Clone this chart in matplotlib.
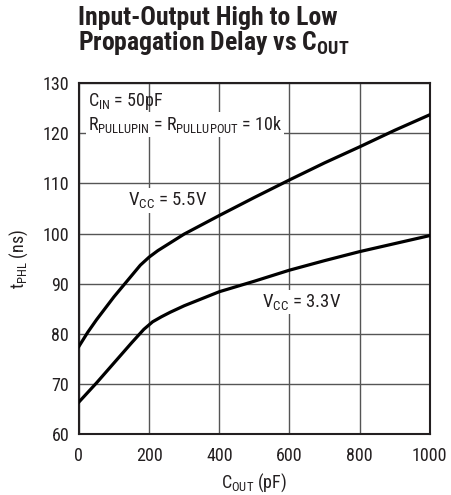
#!/usr/bin/env python3
"""Input-output high to low propagation delay vs C_OUT."""

import matplotlib

matplotlib.use("Agg")
import matplotlib.pyplot as plt
from matplotlib import font_manager

# data
cout_55 = [0, 25, 50, 100, 150, 175, 200, 225, 250, 300, 400, 500, 600, 700, 800, 900, 1000]
tphl_55 = [77.5, 80.3, 82.8, 87.4, 91.6, 93.7, 95.3, 96.6, 97.7, 99.9, 103.6, 107.2, 110.7, 114.1, 117.3, 120.6, 123.7]

cout_33 = [0, 50, 100, 150, 185, 210, 235, 260, 300, 400, 500, 600, 700, 800, 900, 1000]
tphl_33 = [66.4, 70.2, 74.2, 78.2, 80.9, 82.4, 83.4, 84.3, 85.6, 88.4, 90.5, 92.7, 94.6, 96.4, 98.0, 99.6]

x_ticks = [0, 200, 400, 600, 800, 1000]
y_ticks = [60, 70, 80, 90, 100, 110, 120, 130]

names = {f.name for f in font_manager.fontManager.ttflist}
font = "Liberation Sans"
for cand in ["Roboto Condensed", "Open Sans Condensed", "Noto Sans Condensed", "Liberation Sans Narrow"]:
    if cand in names:
        font = cand
        break
plt.rcParams["font.family"] = [font, "DejaVu Sans"]
plt.rcParams["mathtext.fontset"] = "custom"
plt.rcParams["mathtext.rm"] = font
plt.rcParams["mathtext.it"] = font
plt.rcParams["mathtext.bf"] = font + ":bold"

ink = "#231f20"

fig = plt.figure(figsize=(4.51, 4.95), dpi=100)
ax = fig.add_axes([0.175, 0.123, 0.778, 0.709])

ax.plot(cout_55, tphl_55, color="black", linewidth=2.3, zorder=3)
ax.plot(cout_33, tphl_33, color="black", linewidth=2.3, zorder=3)

ax.set_xlim(0, 1000)
ax.set_ylim(60, 130)
ax.set_xticks(x_ticks)
ax.set_yticks(y_ticks)
ax.tick_params(length=0, labelsize=13, colors=ink)
ax.tick_params(axis="y", pad=7)
ax.tick_params(axis="x", pad=9)
ax.grid(True, color="#555555", linewidth=1.0)
ax.set_axisbelow(True)
for s in ax.spines.values():
    s.set_linewidth(1.5)
    s.set_color(ink)

ax.set_xlabel(r"C$_{\mathregular{OUT}}$ (pF)", fontsize=13, color=ink, labelpad=5)
ax.set_ylabel(r"t$_{\mathregular{PHL}}$ (ns)", fontsize=13, color=ink, labelpad=9)

box = dict(facecolor="white", edgecolor="none", pad=1.5)
ax.text(26, 126.3, r"C$_{\mathregular{IN}}$ = 50pF", fontsize=13, color=ink, va="center", ha="left")
ax.text(26, 121.8, r"R$_{\mathregular{PULLUPIN}}$ = R$_{\mathregular{PULLUPOUT}}$ = 10k",
        fontsize=13, color=ink, va="center", ha="left", bbox=box)
ax.text(254, 106.6, r"V$_{\mathregular{CC}}$ = 5.5V", fontsize=13.5, color=ink,
        va="center", ha="center", bbox=box)
ax.text(636, 86.4, r"V$_{\mathregular{CC}}$ = 3.3V", fontsize=13.5, color=ink,
        va="center", ha="center", bbox=box)

fig.text(0.173, 0.988, "Input-Output High to Low\nPropagation Delay vs C$_{\\mathbf{OUT}}$",
         fontsize=18.5, fontweight="bold", ha="left", va="top", color=ink, linespacing=0.95)

fig.savefig("out.png", dpi=100)
